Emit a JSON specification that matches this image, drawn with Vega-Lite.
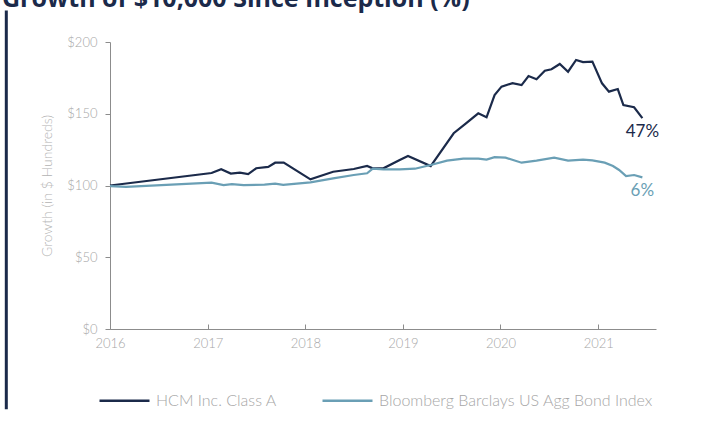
{
  "$schema": "https://vega.github.io/schema/vega-lite/v6.json",
  "width": 546,
  "height": 287,
  "autosize": {"type": "none"},
  "padding": {"left": 110, "top": 42, "right": 68, "bottom": 93},
  "background": "white",
  "title": {
    "text": "Growth of $10,000 Since Inception (%)",
    "anchor": "start",
    "frame": "group",
    "dx": -108,
    "dy": 26,
    "offset": 3,
    "baseline": "alphabetic",
    "fontSize": 25,
    "fontWeight": "bold",
    "font": "Open Sans",
    "color": "#1b2a4a"
  },
  "config": {
    "view": {"stroke": null},
    "font": "Lato",
    "axis": {"grid": false, "labelFont": "Lato", "titleFont": "Lato"}
  },
  "datasets": {
    "series": [
      {"date": "2016-01-01", "series": "HCM Inc. Class A", "value": 100},
      {"date": "2017-01-15", "series": "HCM Inc. Class A", "value": 108.7},
      {"date": "2017-02-20", "series": "HCM Inc. Class A", "value": 111.3},
      {"date": "2017-03-28", "series": "HCM Inc. Class A", "value": 108.3},
      {"date": "2017-05-01", "series": "HCM Inc. Class A", "value": 108.9},
      {"date": "2017-06-01", "series": "HCM Inc. Class A", "value": 108},
      {"date": "2017-07-01", "series": "HCM Inc. Class A", "value": 112},
      {"date": "2017-08-15", "series": "HCM Inc. Class A", "value": 113},
      {"date": "2017-09-10", "series": "HCM Inc. Class A", "value": 115.9},
      {"date": "2017-10-12", "series": "HCM Inc. Class A", "value": 116},
      {"date": "2018-01-20", "series": "HCM Inc. Class A", "value": 104.3},
      {"date": "2018-04-15", "series": "HCM Inc. Class A", "value": 109.6},
      {"date": "2018-07-01", "series": "HCM Inc. Class A", "value": 111.5},
      {"date": "2018-08-20", "series": "HCM Inc. Class A", "value": 113.6},
      {"date": "2018-09-10", "series": "HCM Inc. Class A", "value": 112},
      {"date": "2018-10-20", "series": "HCM Inc. Class A", "value": 112},
      {"date": "2018-12-20", "series": "HCM Inc. Class A", "value": 117.8},
      {"date": "2019-01-20", "series": "HCM Inc. Class A", "value": 120.6},
      {"date": "2019-04-15", "series": "HCM Inc. Class A", "value": 113.5},
      {"date": "2019-07-10", "series": "HCM Inc. Class A", "value": 136.4},
      {"date": "2019-08-25", "series": "HCM Inc. Class A", "value": 143.3},
      {"date": "2019-10-10", "series": "HCM Inc. Class A", "value": 150.3},
      {"date": "2019-11-10", "series": "HCM Inc. Class A", "value": 147.5},
      {"date": "2019-12-10", "series": "HCM Inc. Class A", "value": 163},
      {"date": "2020-01-05", "series": "HCM Inc. Class A", "value": 168.9},
      {"date": "2020-02-15", "series": "HCM Inc. Class A", "value": 171.3},
      {"date": "2020-03-20", "series": "HCM Inc. Class A", "value": 170},
      {"date": "2020-04-15", "series": "HCM Inc. Class A", "value": 176.3},
      {"date": "2020-05-15", "series": "HCM Inc. Class A", "value": 174},
      {"date": "2020-06-15", "series": "HCM Inc. Class A", "value": 180},
      {"date": "2020-07-10", "series": "HCM Inc. Class A", "value": 181},
      {"date": "2020-08-10", "series": "HCM Inc. Class A", "value": 184.7},
      {"date": "2020-09-10", "series": "HCM Inc. Class A", "value": 179.3},
      {"date": "2020-10-10", "series": "HCM Inc. Class A", "value": 187.5},
      {"date": "2020-11-05", "series": "HCM Inc. Class A", "value": 186},
      {"date": "2020-12-10", "series": "HCM Inc. Class A", "value": 186.3},
      {"date": "2021-01-15", "series": "HCM Inc. Class A", "value": 171.2},
      {"date": "2021-02-10", "series": "HCM Inc. Class A", "value": 165.4},
      {"date": "2021-03-15", "series": "HCM Inc. Class A", "value": 167.2},
      {"date": "2021-04-05", "series": "HCM Inc. Class A", "value": 156.1},
      {"date": "2021-05-15", "series": "HCM Inc. Class A", "value": 154.5},
      {"date": "2021-06-15", "series": "HCM Inc. Class A", "value": 147},
      {"date": "2016-01-01", "series": "Bloomberg Barclays US Agg Bond Index", "value": 99.6},
      {"date": "2016-03-01", "series": "Bloomberg Barclays US Agg Bond Index", "value": 99.1},
      {"date": "2017-01-15", "series": "Bloomberg Barclays US Agg Bond Index", "value": 102},
      {"date": "2017-03-01", "series": "Bloomberg Barclays US Agg Bond Index", "value": 100.3},
      {"date": "2017-04-01", "series": "Bloomberg Barclays US Agg Bond Index", "value": 101},
      {"date": "2017-05-15", "series": "Bloomberg Barclays US Agg Bond Index", "value": 100.3},
      {"date": "2017-08-01", "series": "Bloomberg Barclays US Agg Bond Index", "value": 100.6},
      {"date": "2017-09-10", "series": "Bloomberg Barclays US Agg Bond Index", "value": 101.3},
      {"date": "2017-10-10", "series": "Bloomberg Barclays US Agg Bond Index", "value": 100.5},
      {"date": "2018-01-20", "series": "Bloomberg Barclays US Agg Bond Index", "value": 102.2},
      {"date": "2018-04-15", "series": "Bloomberg Barclays US Agg Bond Index", "value": 105},
      {"date": "2018-07-01", "series": "Bloomberg Barclays US Agg Bond Index", "value": 107.3},
      {"date": "2018-08-20", "series": "Bloomberg Barclays US Agg Bond Index", "value": 108.5},
      {"date": "2018-09-10", "series": "Bloomberg Barclays US Agg Bond Index", "value": 111.8},
      {"date": "2018-10-20", "series": "Bloomberg Barclays US Agg Bond Index", "value": 111.3},
      {"date": "2018-12-20", "series": "Bloomberg Barclays US Agg Bond Index", "value": 111.3},
      {"date": "2019-02-15", "series": "Bloomberg Barclays US Agg Bond Index", "value": 111.7},
      {"date": "2019-04-15", "series": "Bloomberg Barclays US Agg Bond Index", "value": 114.3},
      {"date": "2019-06-15", "series": "Bloomberg Barclays US Agg Bond Index", "value": 117.3},
      {"date": "2019-08-15", "series": "Bloomberg Barclays US Agg Bond Index", "value": 118.7},
      {"date": "2019-10-10", "series": "Bloomberg Barclays US Agg Bond Index", "value": 118.7},
      {"date": "2019-11-10", "series": "Bloomberg Barclays US Agg Bond Index", "value": 118},
      {"date": "2019-12-10", "series": "Bloomberg Barclays US Agg Bond Index", "value": 119.7},
      {"date": "2020-01-20", "series": "Bloomberg Barclays US Agg Bond Index", "value": 119.4},
      {"date": "2020-03-20", "series": "Bloomberg Barclays US Agg Bond Index", "value": 115.9},
      {"date": "2020-05-15", "series": "Bloomberg Barclays US Agg Bond Index", "value": 117.3},
      {"date": "2020-07-20", "series": "Bloomberg Barclays US Agg Bond Index", "value": 119.4},
      {"date": "2020-09-10", "series": "Bloomberg Barclays US Agg Bond Index", "value": 117.3},
      {"date": "2020-11-05", "series": "Bloomberg Barclays US Agg Bond Index", "value": 118},
      {"date": "2020-12-10", "series": "Bloomberg Barclays US Agg Bond Index", "value": 117.5},
      {"date": "2021-01-25", "series": "Bloomberg Barclays US Agg Bond Index", "value": 115.9},
      {"date": "2021-02-25", "series": "Bloomberg Barclays US Agg Bond Index", "value": 113.6},
      {"date": "2021-03-20", "series": "Bloomberg Barclays US Agg Bond Index", "value": 110.8},
      {"date": "2021-04-15", "series": "Bloomberg Barclays US Agg Bond Index", "value": 106.6},
      {"date": "2021-05-15", "series": "Bloomberg Barclays US Agg Bond Index", "value": 107.3},
      {"date": "2021-06-15", "series": "Bloomberg Barclays US Agg Bond Index", "value": 105.7}
    ],
    "endLabels": [
      {"date": "2021-06-15", "series": "HCM Inc. Class A", "value": 147, "label": "47%"},
      {"date": "2021-06-15", "series": "Bloomberg Barclays US Agg Bond Index", "value": 105.7, "label": "6%"}
    ]
  },
  "layer": [
    {
      "data": {"values": [{"k": 1}]},
      "mark": {"type": "rule", "color": "#1b2a4a", "strokeWidth": 3},
      "encoding": {
        "x": {"datum": {"year": 2014, "month": 12, "date": 9}, "type": "temporal"},
        "y": {"datum": 222},
        "y2": {"datum": -56}
      }
    },
    {
      "data": {"name": "series"},
      "mark": {"type": "line", "strokeWidth": 2.2},
      "encoding": {
        "x": {
          "field": "date",
          "type": "temporal",
          "scale": {"domain": [{"year": 2016, "month": 1, "date": 1}, {"year": 2021, "month": 8, "date": 5}]},
          "axis": {
            "title": null,
            "format": "%Y",
            "tickCount": {"interval": "year", "step": 1},
            "domainColor": "#8c8c8c",
            "tickColor": "#8c8c8c",
            "tickSize": -5,
            "labelFlush": false,
            "labelColor": "#a6a6a6",
            "labelFontSize": 13,
            "labelPadding": 13,
            "labelFontWeight": 300
          }
        },
        "y": {
          "field": "value",
          "type": "quantitative",
          "scale": {"domain": [0, 200], "nice": false},
          "axis": {
            "title": "Growth (in $ Hundreds)",
            "values": [0, 50, 100, 150, 200],
            "format": "$d",
            "domainColor": "#8c8c8c",
            "tickColor": "#8c8c8c",
            "tickSize": 5,
            "labelColor": "#a6a6a6",
            "labelFontSize": 13,
            "labelPadding": 8,
            "labelFontWeight": 300,
            "titleColor": "#b3b3b3",
            "titleFontSize": 14,
            "titleFontWeight": 300,
            "titlePadding": 12
          }
        },
        "color": {
          "field": "series",
          "type": "nominal",
          "scale": {"domain": ["HCM Inc. Class A", "Bloomberg Barclays US Agg Bond Index"], "range": ["#1b2a4a", "#6a9fb5"]},
          "legend": {
            "title": null,
            "orient": "none",
            "direction": "horizontal",
            "legendX": -12,
            "legendY": 332,
            "symbolType": "stroke",
            "symbolSize": 2500,
            "symbolStrokeWidth": 2.5,
            "labelFontSize": 16,
            "labelLimit": 500,
            "labelColor": "#a6a6a6",
            "labelFontWeight": 300,
            "labelOffset": 5,
            "columnPadding": 40,
            "padding": 0
          }
        }
      }
    },
    {
      "data": {"name": "endLabels"},
      "transform": [{"filter": "datum.label == '47%'"}],
      "mark": {"type": "text", "color": "#1b2a4a", "fontSize": 17, "dy": 14, "dx": 0, "font": "Lato"},
      "encoding": {
        "x": {"field": "date", "type": "temporal"},
        "y": {"field": "value", "type": "quantitative"},
        "text": {"field": "label"}
      }
    },
    {
      "data": {"name": "endLabels"},
      "transform": [{"filter": "datum.label == '6%'"}],
      "mark": {"type": "text", "color": "#6a9fb5", "fontSize": 17, "dy": 14, "dx": 0, "font": "Lato"},
      "encoding": {
        "x": {"field": "date", "type": "temporal"},
        "y": {"field": "value", "type": "quantitative"},
        "text": {"field": "label"}
      }
    }
  ]
}
